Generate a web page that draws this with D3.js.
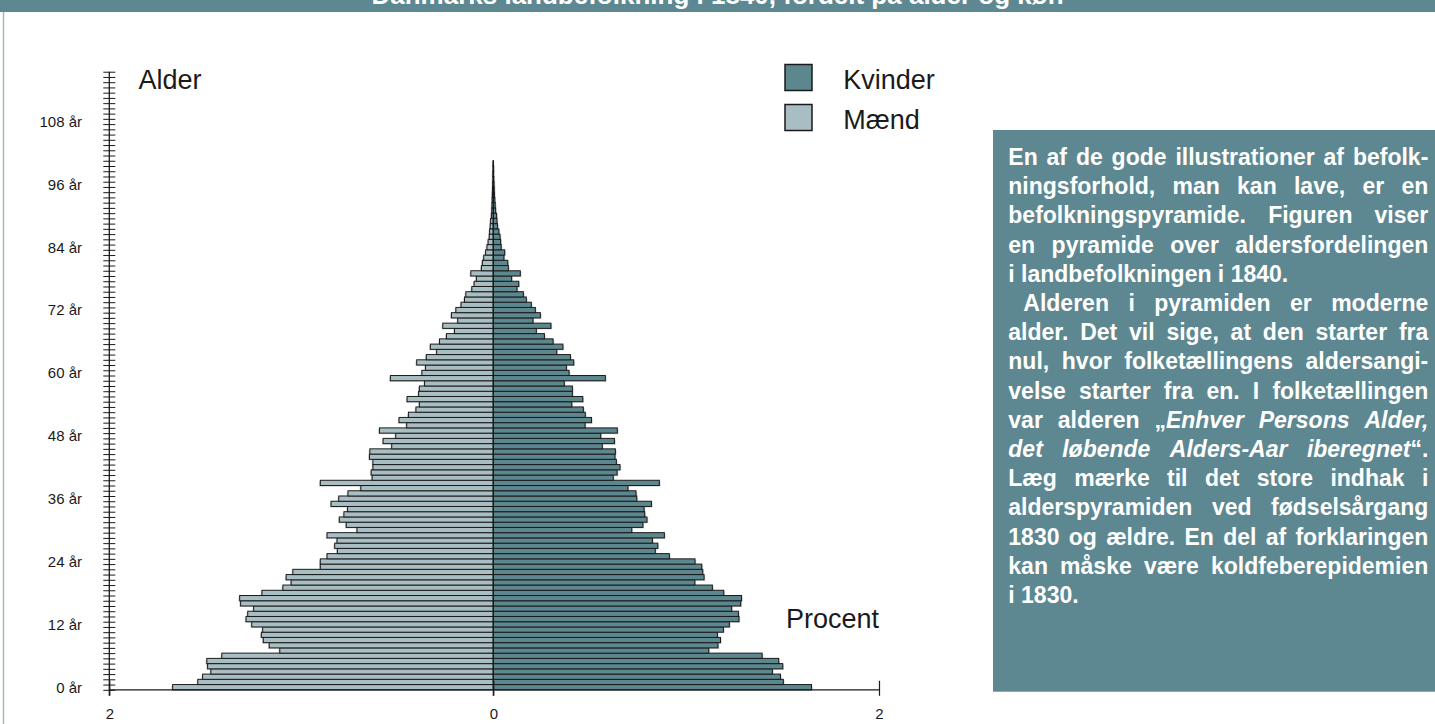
<!DOCTYPE html>
<html>
<head>
<meta charset="utf-8">
<script src="https://cdn.jsdelivr.net/npm/d3@7"></script>
<style>
  html, body { margin: 0; padding: 0; background: #ffffff; }
  svg { display: block; font-family: "Liberation Sans", Arial, Helvetica, sans-serif; }
</style>
</head>
<body>
<script>
// ---------------- DATA ----------------
const titleText = "Danmarks landbefolkning i 1840, fordelt på alder og køn";
const ages = d3.range(0, 101);
// Percent of total population, men (Mænd) by age 0..100
const maendPct = [
  1.670, 1.539, 1.514, 1.471, 1.488, 1.492, 1.414, 1.112, 1.167, 1.198,
  1.208, 1.201, 1.258, 1.288, 1.279, 1.248, 1.316, 1.321, 1.205, 1.096,
  1.053, 1.079, 1.044, 0.901, 0.901, 0.866, 0.812, 0.826, 0.814, 0.866,
  0.710, 0.766, 0.802, 0.778, 0.759, 0.845, 0.805, 0.757, 0.690, 0.901,
  0.631, 0.636, 0.627, 0.627, 0.645, 0.643, 0.529, 0.574, 0.508, 0.593,
  0.451, 0.491, 0.442, 0.403, 0.385, 0.449, 0.389, 0.385, 0.358, 0.536,
  0.372, 0.353, 0.399, 0.349, 0.295, 0.328, 0.280, 0.244, 0.202, 0.263,
  0.185, 0.218, 0.195, 0.168, 0.150, 0.143, 0.112, 0.100, 0.088, 0.117,
  0.062, 0.057, 0.050, 0.040, 0.033, 0.027, 0.021, 0.019, 0.016, 0.014,
  0.010, 0.008, 0.007, 0.006, 0.005, 0.004, 0.003, 0.002, 0.002, 0.001, 0.001
];
// Percent of total population, women (Kvinder) by age 0..100
const kvinderPct = [
  1.650, 1.504, 1.489, 1.447, 1.501, 1.480, 1.394, 1.117, 1.165, 1.178,
  1.162, 1.193, 1.224, 1.274, 1.271, 1.236, 1.283, 1.287, 1.195, 1.136,
  1.045, 1.093, 1.086, 1.081, 1.046, 0.913, 0.840, 0.853, 0.825, 0.887,
  0.718, 0.776, 0.797, 0.785, 0.782, 0.820, 0.744, 0.740, 0.698, 0.861,
  0.622, 0.642, 0.657, 0.638, 0.631, 0.633, 0.565, 0.628, 0.557, 0.643,
  0.476, 0.509, 0.477, 0.467, 0.407, 0.464, 0.410, 0.410, 0.368, 0.581,
  0.393, 0.379, 0.417, 0.400, 0.329, 0.361, 0.310, 0.265, 0.223, 0.299,
  0.206, 0.244, 0.218, 0.197, 0.171, 0.156, 0.123, 0.132, 0.095, 0.140,
  0.078, 0.075, 0.055, 0.059, 0.041, 0.038, 0.035, 0.029, 0.022, 0.019,
  0.017, 0.012, 0.010, 0.008, 0.006, 0.005, 0.004, 0.003, 0.002, 0.002, 0.001
];
const ageTickValues = [0, 12, 24, 36, 48, 60, 72, 84, 96, 108];
const ageTickLabels = ["0 år", "12 år", "24 år", "36 år", "48 år", "60 år", "72 år", "84 år", "96 år", "108 år"];
const xTickValues = [-2, 0, 2];
const xTickLabels = ["2", "0", "2"];
const seriesNames = ["Kvinder", "Mænd"];
const axisTitleY = "Alder";
const axisTitleX = "Procent";
// Text box lines (* toggles italic); {last:true} = last line of paragraph, {indent:true} = first line indent
const boxLines = [
  {t: "En af de gode illustrationer af befolk-"},
  {t: "ningsforhold, man kan lave, er en"},
  {t: "befolkningspyramide. Figuren viser"},
  {t: "en pyramide over aldersfordelingen"},
  {t: "i landbefolkningen i 1840.", last: true},
  {t: "Alderen i pyramiden er moderne", indent: true},
  {t: "alder. Det vil sige, at den starter fra"},
  {t: "nul, hvor folketællingens aldersangi-"},
  {t: "velse starter fra en. I folketællingen"},
  {t: "var alderen „*Enhver Persons Alder,*"},
  {t: "*det løbende Alders-Aar iberegnet*“."},
  {t: "Læg mærke til det store indhak i"},
  {t: "alderspyramiden ved fødselsårgang"},
  {t: "1830 og ældre. En del af forklaringen"},
  {t: "kan måske være koldfeberepidemien"},
  {t: "i 1830.", last: true}
];

// ---------------- STYLE ----------------
const W = 1435, H = 724;
const teal = "#5e8891";
const womenFill = "#5c878f";
const menFill = "#a9bec3";
const ink = "#1a1a1a";

const svg = d3.select("body").append("svg").attr("width", W).attr("height", H);

// title bar
svg.append("rect").attr("x", 0).attr("y", 0).attr("width", W).attr("height", 12).attr("fill", teal);
svg.append("text").attr("x", W / 2).attr("y", 4).attr("text-anchor", "middle")
  .attr("font-size", 26).attr("font-weight", "bold").attr("fill", "#ffffff").text(titleText);
// left frame line
svg.append("line").attr("x1", 3.5).attr("x2", 3.5).attr("y1", 12).attr("y2", H)
  .attr("stroke", "#a3b9be").attr("stroke-width", 1.5);

// scales
const x = d3.scaleLinear().domain([-2, 0, 2]).range([109.3, 493.3, 879]);
const yStep = 5.238;
const yBase = 689.8;
const y = d3.scaleLinear().domain([0, 118]).range([yBase, yBase - yStep * 118]);

const data = ages.map((a, i) => ({age: a, m: maendPct[i], k: kvinderPct[i]}));

const bars = svg.append("g");
// subtle shadows
bars.selectAll("rect.ms").data(data).join("rect").attr("class", "ms")
  .attr("x", d => x(-d.m) - 1.2).attr("y", d => y(d.age + 1) + 1)
  .attr("width", d => x(0) - x(-d.m)).attr("height", d => y(d.age) - y(d.age + 1))
  .attr("fill", "#8a8a8a").attr("opacity", 0.45);
bars.selectAll("rect.ks").data(data).join("rect").attr("class", "ks")
  .attr("x", d => x(0) + 1.2).attr("y", d => y(d.age + 1) + 1)
  .attr("width", d => x(d.k) - x(0)).attr("height", d => y(d.age) - y(d.age + 1))
  .attr("fill", "#8a8a8a").attr("opacity", 0.45);
// men bars
bars.selectAll("rect.m").data(data).join("rect").attr("class", "m")
  .attr("x", d => x(-d.m)).attr("y", d => y(d.age + 1))
  .attr("width", d => x(0) - x(-d.m)).attr("height", d => y(d.age) - y(d.age + 1))
  .attr("fill", menFill).attr("stroke", ink).attr("stroke-width", 1);
// women bars
bars.selectAll("rect.k").data(data).join("rect").attr("class", "k")
  .attr("x", x(0)).attr("y", d => y(d.age + 1))
  .attr("width", d => x(d.k) - x(0)).attr("height", d => y(d.age) - y(d.age + 1))
  .attr("fill", womenFill).attr("stroke", ink).attr("stroke-width", 1);

// zero line
svg.append("line").attr("x1", x(0)).attr("x2", x(0))
  .attr("y1", y(101)).attr("y2", yBase + 6)
  .attr("stroke", ink).attr("stroke-width", 1.2);

// Y axis (age) with ticks on both sides
const yAxis = d3.axisLeft(y).tickValues(d3.range(0, 119)).tickSize(6).tickFormat("");
const yg = svg.append("g").attr("transform", `translate(${x(-2)},0)`).call(yAxis);
yg.select(".domain").remove();
yg.selectAll(".tick line").attr("x1", -6).attr("x2", 6).attr("stroke", ink).attr("stroke-width", 1);
yg.append("line").attr("x1", 0).attr("x2", 0).attr("y1", y(118)).attr("y2", yBase + 6)
  .attr("stroke", ink).attr("stroke-width", 1.3);

// age labels
svg.append("g").selectAll("text").data(ageTickValues).join("text")
  .attr("x", 82).attr("y", d => y(d + 0.5)).attr("dy", "0.36em")
  .attr("text-anchor", "end").attr("font-size", 15).attr("fill", ink)
  .text((d, i) => ageTickLabels[i]);

// X axis
const xAxis = d3.axisBottom(x).tickValues(xTickValues).tickSize(6).tickFormat((d, i) => xTickLabels[i]);
const xg = svg.append("g").attr("transform", `translate(0,${yBase})`).call(xAxis);
xg.select(".domain").remove();
xg.append("line").attr("x1", x(-2)).attr("x2", x(2)).attr("y1", 0).attr("y2", 0)
  .attr("stroke", ink).attr("stroke-width", 1.2);
xg.selectAll(".tick line").attr("y1", -9).attr("y2", 6).attr("stroke", ink).attr("stroke-width", 1.2);
xg.selectAll(".tick text").attr("y", 0).attr("dy", 0).attr("transform", "translate(0,29)")
  .attr("font-size", 15).attr("font-family", "Liberation Sans, Arial, sans-serif").attr("fill", ink);

// axis titles
svg.append("text").attr("x", 138.5).attr("y", 89.3).attr("font-size", 27).attr("fill", ink).text(axisTitleY);
svg.append("text").attr("x", 879).attr("y", 628.3).attr("text-anchor", "end")
  .attr("font-size", 27).attr("fill", ink).text(axisTitleX);

// legend
const legendFills = [womenFill, menFill];
const lg = svg.append("g");
lg.selectAll("rect").data(seriesNames).join("rect")
  .attr("x", 785).attr("y", (d, i) => 64.5 + i * 40).attr("width", 27).attr("height", 26)
  .attr("fill", (d, i) => legendFills[i]).attr("stroke", ink).attr("stroke-width", 1.5);
lg.selectAll("text").data(seriesNames).join("text")
  .attr("x", 843.3).attr("y", (d, i) => 89.3 + i * 40)
  .attr("font-size", 27).attr("fill", ink).text(d => d);

// text box
const boxX = 993, boxY = 130, boxW = W - 993, boxH = 561.7;
svg.append("rect").attr("x", boxX).attr("y", boxY).attr("width", boxW).attr("height", boxH).attr("fill", teal);
const tb = svg.append("g").attr("font-size", 23).attr("font-weight", "bold").attr("fill", "#ffffff");
const textLeft = 1008.3, textRight = 1428.3, indentW = 15;
const base0 = 165, lineH = 29.2;

function parseLine(str) {
  const words = [];
  let cur = [], buf = "", it = false;
  const flush = () => { if (buf) { cur.push({t: buf, it}); buf = ""; } };
  for (const ch of str) {
    if (ch === "*") { flush(); it = !it; }
    else if (ch === " ") { flush(); if (cur.length) words.push(cur); cur = []; }
    else buf += ch;
  }
  flush();
  if (cur.length) words.push(cur);
  return words;
}

boxLines.forEach((ln, li) => {
  const yy = base0 + li * lineH;
  const left = textLeft + (ln.indent ? indentW : 0);
  const words = parseLine(ln.t);
  const els = words.map(w => {
    const t = tb.append("text").attr("x", 0).attr("y", yy);
    w.forEach(seg => t.append("tspan").attr("font-style", seg.it ? "italic" : "normal").text(seg.t));
    return t;
  });
  const widths = els.map(e => e.node().getComputedTextLength());
  const sum = d3.sum(widths);
  const spaceW = 23 * 0.278;
  const gap = (!ln.last && words.length > 1) ? (textRight - left - sum) / (words.length - 1) : spaceW;
  let cx = left;
  els.forEach((e, i) => { e.attr("x", cx); cx += widths[i] + gap; });
});
</script>
</body>
</html>
